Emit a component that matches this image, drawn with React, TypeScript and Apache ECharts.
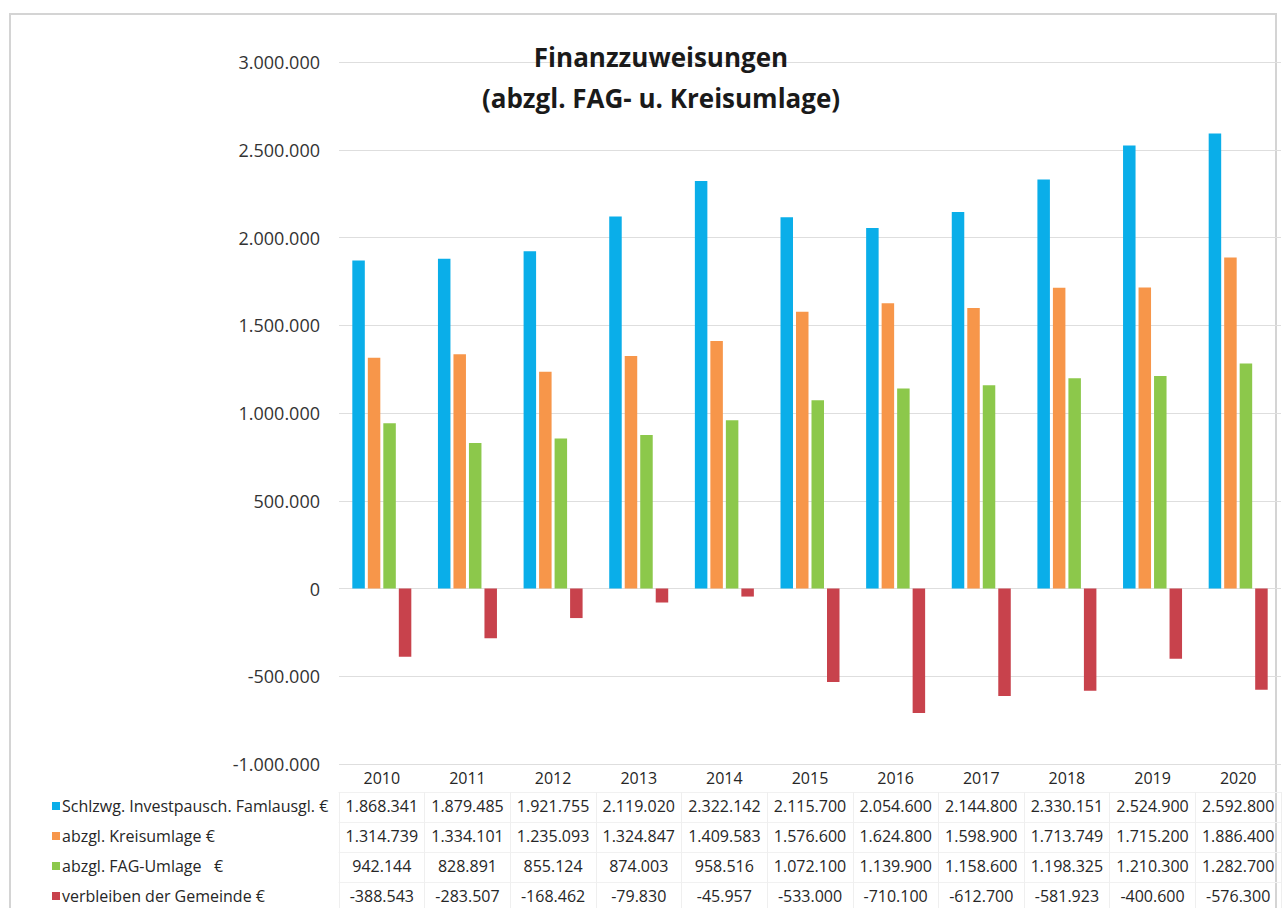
import React, { useEffect, useRef } from "react";
import * as echarts from "echarts";

const years = ["2010", "2011", "2012", "2013", "2014", "2015", "2016", "2017", "2018", "2019", "2020"];
const seriesNames = [
  "Schlzwg. Investpausch. Famlausgl. €",
  "abzgl. Kreisumlage €",
  "abzgl. FAG-Umlage   €",
  "verbleiben der Gemeinde €",
];
const schlzwg = [1868341, 1879485, 1921755, 2119020, 2322142, 2115700, 2054600, 2144800, 2330151, 2524900, 2592800];
const kreisumlage = [1314739, 1334101, 1235093, 1324847, 1409583, 1576600, 1624800, 1598900, 1713749, 1715200, 1886400];
const fagUmlage = [942144, 828891, 855124, 874003, 958516, 1072100, 1139900, 1158600, 1198325, 1210300, 1282700];
const verbleiben = [-388543, -283507, -168462, -79830, -45957, -533000, -710100, -612700, -581923, -400600, -576300];
const colors = ["#0aaee9", "#f7964a", "#8cc84b", "#c8424c"];

function de(n: number): string {
  const s = Math.abs(Math.round(n)).toString().replace(/\B(?=(\d{3})+(?!\d))/g, ".");
  return (n < 0 ? "-" : "") + s;
}

const FONT = "'Open Sans', 'Noto Sans', sans-serif";

export default function App() {
  const ref = useRef<HTMLDivElement>(null);
  useEffect(() => {
    if (!ref.current) return;
    const chart = echarts.init(ref.current, null, { renderer: "svg" });
    const allData = [schlzwg, kreisumlage, fagUmlage, verbleiben];
    const rowOffsets = [28, 58, 88, 118];
    const tableAxes = allData.map((arr, i) => ({
      type: "category" as const,
      gridIndex: 0,
      position: "bottom" as const,
      offset: rowOffsets[i],
      data: arr.map(de),
      axisLine: { show: true, lineStyle: { color: "#f1f1f1", width: 1 } },
      axisTick: { show: true, length: 30, lineStyle: { color: "#efefef" } },
      axisLabel: {
        interval: 0,
        margin: 6,
        fontSize: 16,
        lineHeight: 16,
        color: "#262626",
        fontFamily: FONT,
      },
      splitLine: { show: false },
    }));
    const legends = seriesNames.map((name, i) => ({
      orient: "horizontal" as const,
      left: 52,
      top: 764 + rowOffsets[i] + 14 - 8,
      padding: 0,
      icon: "rect",
      itemWidth: 8,
      itemHeight: 8,
      selectedMode: false,
      data: [name],
      textStyle: { fontSize: 16, lineHeight: 16, color: "#262626", fontFamily: FONT, padding: [0, 0, 0, -3] },
    }));
    chart.setOption({
      animation: false,
      backgroundColor: "#ffffff",
      textStyle: { fontFamily: FONT },
      color: colors,
      title: {
        text: "Finanzzuweisungen\n(abzgl. FAG- u. Kreisumlage)",
        left: 656,
        top: 31,
        textAlign: "center",
        textStyle: {
          fontSize: 26,
          fontWeight: "bold",
          lineHeight: 41,
          color: "#1a1a1a",
          fontFamily: FONT,
        },
      },
      legend: legends,
      grid: { left: 339, right: 7, top: 62, bottom: 144 },
      xAxis: [
        {
          type: "category",
          data: years,
          position: "bottom",
          axisLine: { show: false },
          axisTick: { show: false },
          axisLabel: { interval: 0, margin: 6, fontSize: 16, lineHeight: 16, color: "#262626", fontFamily: FONT },
          splitLine: { show: false },
        },
        ...tableAxes,
      ],
      yAxis: {
        type: "value",
        min: -1000000,
        max: 3000000,
        interval: 500000,
        axisLine: { show: false },
        axisTick: { show: false },
        axisLabel: {
          formatter: (v: number) => de(v),
          fontSize: 18,
          margin: 19,
          color: "#333333",
          fontFamily: FONT,
        },
        splitLine: { lineStyle: { color: "#dedede", width: 1 } },
      },
      series: allData.map((arr, i) => ({
        name: seriesNames[i],
        type: "bar",
        xAxisIndex: 0,
        data: arr,
        barWidth: 12.5,
        barGap: "24%",
        itemStyle: { color: colors[i] },
      })),
      graphic: [
        {
          type: "rect",
          shape: { x: 10, y: 14, width: 1266, height: 1000 },
          style: { fill: "none", stroke: "#d4d4d4", lineWidth: 2 },
          silent: true,
          z: -1,
        },
      ],
    });
    return () => chart.dispose();
  }, []);
  return <div ref={ref} style={{ position: "fixed", left: 0, top: 0, width: 1288, height: 908 }} />;
}
